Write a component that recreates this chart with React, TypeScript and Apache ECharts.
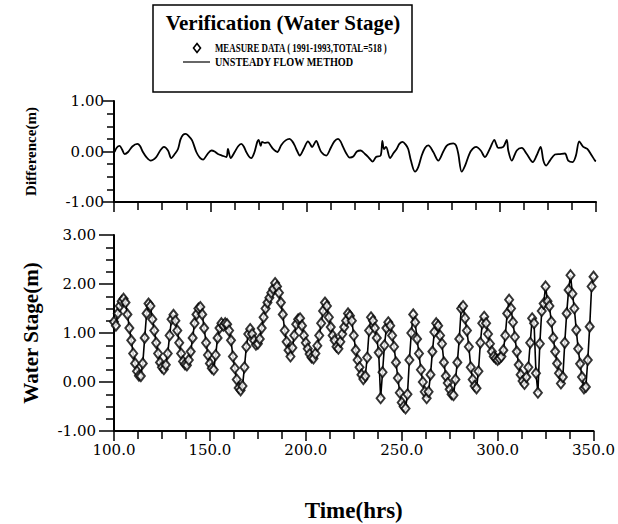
import React, { useEffect, useRef } from "react";
import * as echarts from "echarts";

// Hourly measured water stage (m), from t = 100 h to t = 350 h
const START_HOUR = 100;
const measuredStage = [
  1.23, 1.15, 1.4, 1.55, 1.65, 1.7, 1.62, 1.38, 1.1, 0.85,
  0.58, 0.38, 0.22, 0.13, 0.12, 0.38, 0.9, 1.4, 1.6, 1.55,
  1.28, 1.05, 0.8, 0.58, 0.4, 0.3, 0.26, 0.35, 0.58, 0.95,
  1.28, 1.37, 1.25, 1.05, 0.8, 0.58, 0.42, 0.36, 0.34, 0.45,
  0.62, 0.9, 1.2, 1.38, 1.5, 1.53, 1.38, 1.1, 0.8, 0.55,
  0.38, 0.28, 0.25, 0.55, 0.9, 1.1, 1.2, 1.15, 1.2, 1.18,
  1.05, 0.85, 0.52, 0.28, 0.05, -0.12, -0.17, -0.08, 0.3, 0.72,
  0.98, 1.08, 0.98, 0.85, 0.76, 0.78, 0.88, 1.1, 1.32, 1.5,
  1.62, 1.72, 1.82, 1.9, 2.02, 1.95, 1.82, 1.62, 1.38, 1.05,
  0.82, 0.65, 0.52, 0.7, 0.95, 1.18, 1.28, 1.3, 1.15, 0.95,
  0.8, 0.68, 0.57, 0.5, 0.48, 0.58, 0.74, 0.95, 1.2, 1.45,
  1.62, 1.55, 1.32, 1.12, 0.95, 0.85, 0.72, 0.68, 0.82, 0.98,
  1.12, 1.25, 1.4, 1.35, 1.25, 0.95, 0.65, 0.45, 0.3, 0.15,
  0.06, 0.12, 0.5, 1.05, 1.32, 1.25, 1.1, 0.9, 0.6, -0.33,
  0.2, 0.75, 1.1, 1.22, 1.15, 0.95, 0.72, 0.4, 0.08, -0.22,
  -0.42, -0.5, -0.54, -0.25, 0.45, 1.0, 1.38, 1.22, 0.88, 0.58,
  0.25, 0.0, -0.2, -0.33, -0.2, 0.15, 0.62, 1.02, 1.2, 1.15,
  0.95, 0.78, 0.4, 0.12, -0.02, -0.15, -0.25, -0.27, 0.05, 0.4,
  0.88, 1.5, 1.55, 1.3, 1.05, 0.72, 0.3, 0.05, -0.08, -0.13,
  0.22, 0.8, 1.2, 1.33, 1.2, 0.98, 0.78, 0.62, 0.52, 0.48,
  0.45, 0.48, 0.52, 0.65, 0.95, 1.4, 1.68, 1.5, 1.22, 0.92,
  0.62, 0.35, 0.15, 0.02, -0.04, 0.1, 0.3, 0.8, 1.3, 1.2,
  0.18, -0.22, 0.78, 1.45, 1.6, 1.95, 1.65, 1.55, 1.23, 0.9,
  0.62, 0.38, 0.18, -0.03, 0.1, 0.8, 1.4, 1.88, 2.18, 1.8,
  1.5, 1.06, 0.68, 0.37, 0.1, -0.13, -0.1, 0.45, 1.13, 1.95,
  2.15,
];

const diffHours = [
  100.3, 101.5, 102.9, 104.2, 105.5, 107.3, 109.5, 112.1, 113.5, 115.0,
  117.0, 119.0, 121.9, 124.0, 125.9, 128.0, 129.7, 131.5, 133.2, 134.5,
  135.8, 137.2, 138.4, 140.5, 142.7, 144.5, 146.2, 148.5, 150.5, 152.2,
  153.9, 156.0, 158.3, 159.1, 160.5, 162.6, 164.3, 166.0, 167.3, 168.6,
  170.0, 171.2, 172.8, 174.3, 175.0, 176.1, 176.8, 178.1, 179.9, 181.2,
  182.5, 184.7, 186.8, 189.0, 191.1, 192.5, 193.7, 195.0, 196.3, 198.5,
  200.6, 201.7, 202.7, 204.9, 206.2, 207.5, 210.1, 212.4, 214.3, 216.2,
  217.5, 218.8, 220.5, 222.2, 224.1, 226.0, 228.0, 230.2, 231.9, 234.2,
  235.9, 238.3, 239.2, 240.0, 241.1, 243.2, 245.0, 246.6, 248.0, 249.7,
  251.2, 252.6, 254.0, 256.1, 257.8, 259.6, 261.3, 263.0, 265.6, 268.2,
  270.8, 272.5, 274.3, 276.0, 277.4, 278.6, 280.3, 282.1, 284.3, 286.0,
  287.8, 290.2, 292.4, 295.0, 297.3, 298.3, 299.3, 301.9, 303.7, 304.5,
  306.3, 308.9, 311.5, 314.1, 317.2, 319.2, 321.3, 322.7, 324.1, 326.1,
  328.7, 331.3, 333.9, 335.6, 337.9, 339.6, 341.3, 343.4, 345.5, 347.8,
  349.5, 350.0,
];
const diffValues = [
  -0.01, 0.08, 0.11, 0.04, -0.05, -0.01, 0.1, 0.15, 0.11, -0.01,
  -0.12, -0.18, -0.11, 0.02, 0.09, 0.02, -0.13, -0.05, 0.05, 0.24,
  0.33, 0.35, 0.32, 0.22, -0.01, -0.12, -0.16, -0.05, 0.02, 0.0,
  -0.05, -0.08, -0.11, 0.05, -0.13, -0.01, 0.1, 0.15, 0.1, -0.01,
  -0.1, -0.13, -0.02, 0.19, 0.23, 0.11, 0.19, 0.17, 0.18, 0.12,
  0.05, -0.01, 0.13, 0.22, 0.25, 0.2, 0.12, 0.01, -0.08, 0.06,
  0.2, 0.15, 0.09, 0.21, 0.1, -0.01, -0.08, 0.07, 0.2, 0.25,
  0.2, 0.09, -0.04, -0.12, -0.1, 0.0, 0.02, -0.05, -0.11, -0.2,
  -0.11, -0.08, 0.21, 0.05, 0.09, -0.13, -0.03, 0.05, 0.15, 0.19,
  0.14, 0.05, -0.18, -0.4, -0.31, -0.08, 0.07, 0.12, -0.01, -0.18,
  0.0, 0.11, 0.15, 0.16, 0.12, -0.05, -0.4, -0.28, -0.05, 0.05,
  0.09, 0.02, -0.11, 0.06, 0.23, 0.14, 0.07, 0.09, 0.23, 0.02,
  -0.18, 0.02, 0.07, -0.05, -0.21, -0.08, 0.09, -0.18, -0.28, -0.18,
  -0.06, -0.05, -0.04, -0.18, -0.21, -0.08, 0.2, 0.09, 0.05, -0.08,
  -0.18, -0.19,
];

const titleText = "Verification (Water Stage)";
const measureName = "MEASURE DATA ( 1991-1993,TOTAL=518 )";
const modelName = "UNSTEADY FLOW METHOD";

const SERIF = '"Liberation Serif", "DejaVu Serif", serif';
const TICK_FONT = '"DejaVu Serif", serif';

export default function App() {
  const ref = useRef<HTMLDivElement>(null);

  useEffect(() => {
    if (!ref.current) return;
    const chart = echarts.init(ref.current, null, { renderer: "svg" });

    const stagePairs = measuredStage.map((v, i) => [START_HOUR + i, v]);
    const diffPairs = diffHours.map((t, i) => [t, diffValues[i]]);

    const axisLine = { onZero: false, lineStyle: { color: "#000", width: 2 } };
    const xTick = { show: true, length: 10, lineStyle: { color: "#000", width: 1.5 } };
    const xMinor = { show: true, splitNumber: 4, length: 8, lineStyle: { color: "#000", width: 1.5 } };
    const labelStyle = { color: "#000", fontSize: 15, fontFamily: TICK_FONT };

    const option: any = {
      animation: false,
      backgroundColor: "#fff",
      textStyle: { fontFamily: SERIF },
      grid: [
        { left: 114, top: 101, width: 482, height: 101 },
        { left: 114, top: 235, width: 482, height: 196 },
      ],
      xAxis: [
        {
          gridIndex: 0,
          type: "value",
          min: 100,
          max: 350,
          interval: 50,
          axisLine,
          axisTick: xTick,
          minorTick: xMinor,
          axisLabel: { show: false },
          splitLine: { show: false },
          minorSplitLine: { show: false },
        },
        {
          gridIndex: 1,
          type: "value",
          min: 100,
          max: 350,
          interval: 50,
          axisLine,
          axisTick: xTick,
          minorTick: xMinor,
          axisLabel: { ...labelStyle, margin: 11, formatter: (v: number) => v.toFixed(1) },
          splitLine: { show: false },
          minorSplitLine: { show: false },
          name: "Time(hrs)",
          nameLocation: "middle",
          nameGap: 68,
          nameTextStyle: { color: "#000", fontSize: 23, fontWeight: "bold", fontFamily: SERIF },
        },
      ],
      yAxis: [
        {
          gridIndex: 0,
          type: "value",
          min: -1,
          max: 1,
          interval: 1,
          axisLine,
          axisTick: { show: true, length: 11, lineStyle: { color: "#000", width: 1.5 } },
          minorTick: { show: true, splitNumber: 4, length: 7, lineStyle: { color: "#000", width: 1.5 } },
          axisLabel: { ...labelStyle, margin: 10, formatter: (v: number) => v.toFixed(2) },
          splitLine: { show: false },
          minorSplitLine: { show: false },
          name: "Difference(m)",
          nameLocation: "middle",
          nameRotate: 90,
          nameGap: 76,
          nameTextStyle: { color: "#000", fontSize: 15, fontWeight: "bold", fontFamily: SERIF },
        },
        {
          gridIndex: 1,
          type: "value",
          min: -1,
          max: 3,
          interval: 1,
          axisLine,
          axisTick: { show: true, length: 15, lineStyle: { color: "#000", width: 1.5 } },
          minorTick: { show: true, splitNumber: 4, length: 8, lineStyle: { color: "#000", width: 1.5 } },
          axisLabel: { ...labelStyle, margin: 18, formatter: (v: number) => v.toFixed(2) },
          splitLine: { show: false },
          minorSplitLine: { show: false },
          name: "Water Stage(m)",
          nameLocation: "middle",
          nameRotate: 90,
          nameGap: 73,
          nameTextStyle: { color: "#000", fontSize: 21, fontWeight: "bold", fontFamily: SERIF },
        },
      ],
      series: [
        {
          name: modelName,
          type: "line",
          xAxisIndex: 0,
          yAxisIndex: 0,
          data: diffPairs,
          showSymbol: false,
          smooth: 0.3,
          lineStyle: { color: "#000", width: 1.8 },
        },
        {
          name: modelName,
          type: "line",
          xAxisIndex: 1,
          yAxisIndex: 1,
          data: stagePairs,
          showSymbol: false,
          lineStyle: { color: "#000", width: 1.6 },
          z: 2,
        },
        {
          name: measureName,
          type: "scatter",
          xAxisIndex: 1,
          yAxisIndex: 1,
          data: stagePairs,
          symbol: "diamond",
          symbolSize: [8, 10],
          itemStyle: { color: "#fff", borderColor: "#000", borderWidth: 2 },
          z: 3,
        },
      ],
      graphic: [
        {
          type: "rect",
          shape: { x: 153, y: 5, width: 259, height: 87 },
          style: { fill: "none", stroke: "#000", lineWidth: 1.5 },
        },
        {
          type: "text",
          x: 283,
          y: 23,
          style: {
            text: titleText,
            fill: "#000",
            font: `bold 21px ${SERIF}`,
            align: "center",
            verticalAlign: "middle",
          },
        },
        {
          type: "polygon",
          shape: { points: [[197, 43.5], [200.5, 48], [197, 52.5], [193.5, 48]] },
          style: { fill: "#fff", stroke: "#000", lineWidth: 1.6 },
        },
        {
          type: "text",
          x: 215,
          y: 48,
          scaleX: 0.74,
          style: {
            text: measureName,
            fill: "#000",
            font: `bold 12px ${SERIF}`,
            align: "left",
            verticalAlign: "middle",
          },
        },
        {
          type: "line",
          shape: { x1: 183, y1: 62, x2: 210, y2: 62 },
          style: { stroke: "#000", lineWidth: 1.2 },
        },
        {
          type: "text",
          x: 215,
          y: 62,
          scaleX: 0.85,
          style: {
            text: modelName,
            fill: "#000",
            font: `bold 12px ${SERIF}`,
            align: "left",
            verticalAlign: "middle",
          },
        },
      ],
    };

    chart.setOption(option);
    return () => chart.dispose();
  }, []);

  return (
    <div
      ref={ref}
      style={{ position: "fixed", left: 0, top: 0, width: 618, height: 524 }}
    />
  );
}
